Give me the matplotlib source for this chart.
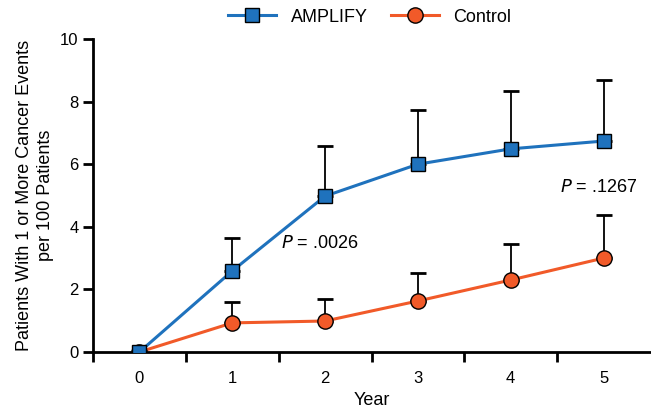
import matplotlib
matplotlib.use("Agg")
import matplotlib.pyplot as plt
from matplotlib import font_manager
import numpy as np

names = {f.name for f in font_manager.fontManager.ttflist}
fam = "Liberation Sans Narrow" if "Liberation Sans Narrow" in names else "Liberation Sans"
plt.rcParams['font.family'] = [fam, 'DejaVu Sans']

years = [0, 1, 2, 3, 4, 5]
amplify = [0, 2.59, 4.98, 6.0, 6.49, 6.74]
amplify_err = [0, 1.05, 1.60, 1.73, 1.85, 1.95]
control = [0, 0.93, 0.99, 1.63, 2.30, 3.0]
control_err = [0, 0.67, 0.70, 0.89, 1.15, 1.38]

blue = "#1f72bd"
orange = "#f15a29"

fig = plt.figure(figsize=(6.51, 4.08), dpi=100)
ax = fig.add_axes([93/651, 1-352/408, (650-93)/651, (352-39)/408])

ax.errorbar(years[1:], amplify[1:], yerr=[np.zeros(5), amplify_err[1:]], fmt='none',
            ecolor='black', elinewidth=1.3, capsize=6, capthick=2, zorder=2)
ax.errorbar(years[1:], control[1:], yerr=[np.zeros(5), control_err[1:]], fmt='none',
            ecolor='black', elinewidth=1.3, capsize=6, capthick=2, zorder=2)
ax.plot(years, control, color=orange, lw=2.2, marker='o', ms=11, mfc=orange, mec='black', mew=1.0,
        label='Control', zorder=3)
ax.plot(years, amplify, color=blue, lw=2.2, marker='s', ms=10, mfc=blue, mec='black', mew=1.0,
        label='AMPLIFY', zorder=4)

ax.set_xlim(-0.5, 5.5)
ax.set_ylim(0, 10)
ax.set_yticks([0, 2, 4, 6, 8, 10])
ax.set_xticks(years)
ax.set_xticks([-0.5, 0.5, 1.5, 2.5, 3.5, 4.5], minor=True)
ax.tick_params(axis='x', which='major', length=0, pad=14, labelsize=12)
ax.tick_params(axis='x', which='minor', length=7, width=2)
ax.tick_params(axis='y', length=7, width=2, labelsize=12)
for s in ['top', 'right']:
    ax.spines[s].set_visible(False)
for s in ['left', 'bottom']:
    ax.spines[s].set_linewidth(2)

ax.set_xlabel('Year', fontsize=13, labelpad=4)
ax.set_ylabel('Patients With 1 or More Cancer Events\nper 100 Patients', fontsize=13, labelpad=4,
              linespacing=1.35)

ax.text(1.52, 3.48, r'$\it{P}$ = .0026', fontsize=13, va='center', ha='left')
ax.text(4.53, 5.27, r'$\it{P}$ = .1267', fontsize=13, va='center', ha='left')

handles, labels = ax.get_legend_handles_labels()
leg = fig.legend(handles[::-1], labels[::-1], loc='center', bbox_to_anchor=(0.568, 1-17/408), ncol=2,
                 frameon=False, fontsize=13, handlelength=2.65, columnspacing=1.3, handletextpad=0.8)

fig.savefig('out.png', dpi=100)
